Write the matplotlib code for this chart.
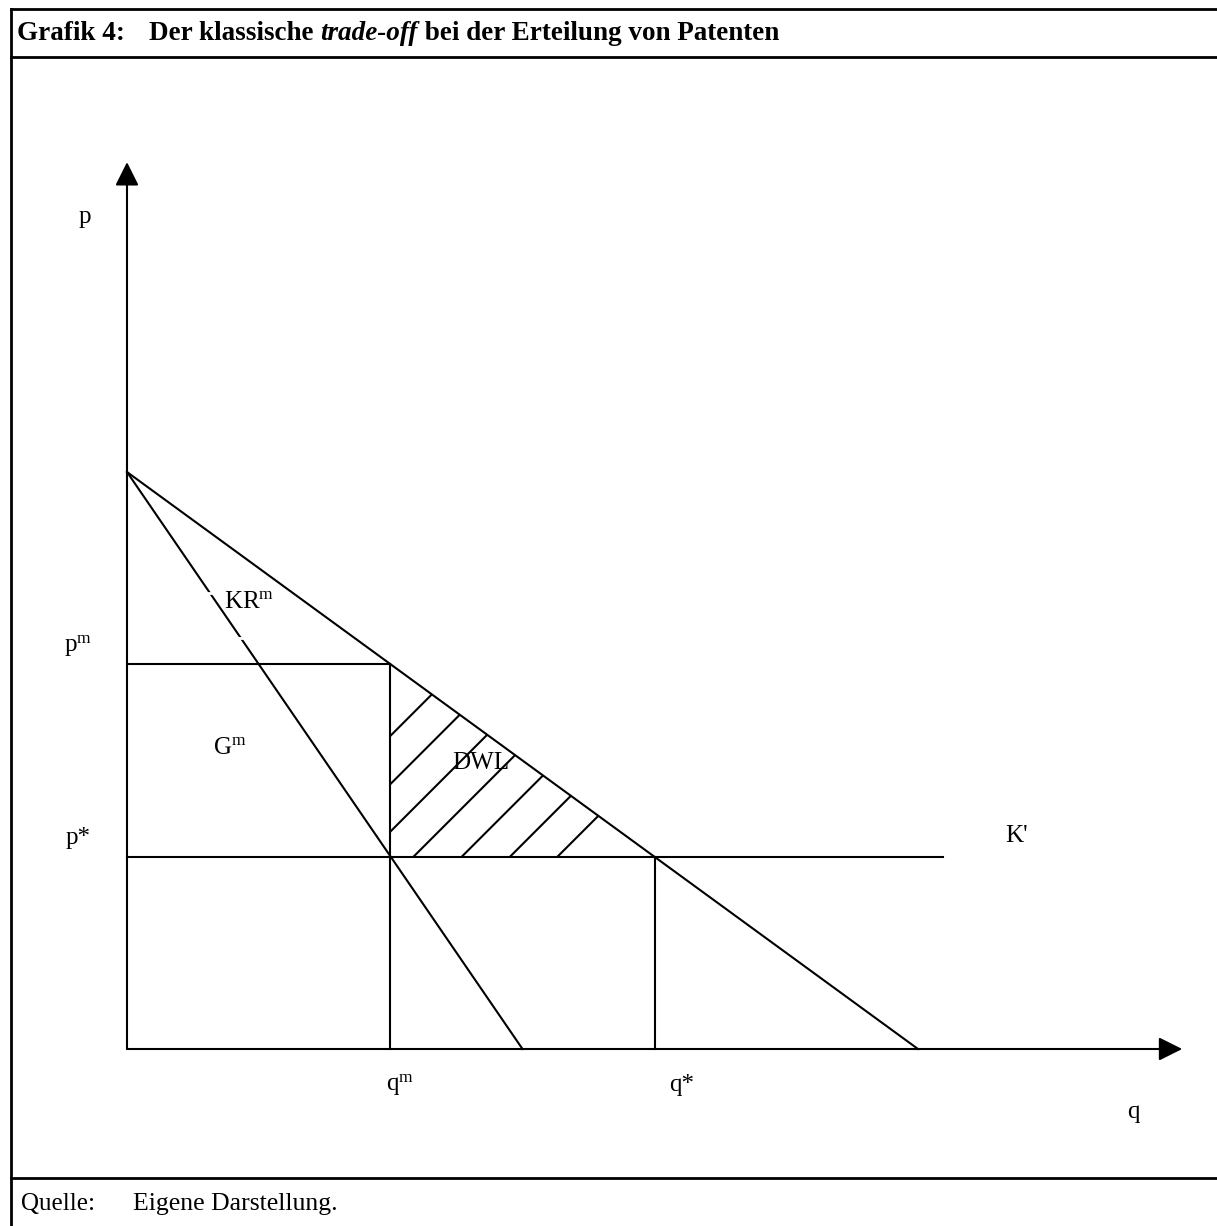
import matplotlib
matplotlib.use("Agg")
import matplotlib.pyplot as plt
from matplotlib.lines import Line2D
from matplotlib.patches import Polygon, Rectangle

# --- model values (linear demand, constant marginal cost) ---
demand_q = [0.0, 10.0]       # demand curve: price intercept -> quantity intercept
demand_p = [10.0, 0.0]
mr_q = [0.0, 5.0]            # marginal revenue curve
mr_p = [10.0, 0.0]
marginal_cost = 3.33         # K'
q_mono, p_mono = 3.33, 6.67  # monopoly quantity / price
q_star = 6.67                # competitive quantity
k_end = 10.32                # right end of the K' line
q_axis_end, p_axis_end = 13.34, 15.37

# hatch lines of the deadweight loss triangle (start on the K' line)
hatch_start_q = [1.80, 2.41, 3.01, 3.62, 4.23, 4.84, 5.44]

W, H = 1217, 1226
serif = "Liberation Serif"
plt.rcParams["mathtext.fontset"] = "custom"
plt.rcParams["mathtext.rm"] = serif
plt.rcParams["mathtext.it"] = serif + ":italic"

fig = plt.figure(figsize=(W / 100, H / 100), dpi=100)
ax = fig.add_axes([0, 0, 1, 1])
# origin sits at pixel (127, 1049); 79.1 px per q unit, 57.7 px per p unit
ax.set_xlim(-127 / 79.1, (W - 127) / 79.1)
ax.set_ylim(-(H - 1049) / 57.7, 1049 / 57.7)
ax.axis("off")

lw = 1.5
k = "black"

# axes with filled arrow heads
arrow = dict(arrowstyle="-|>,head_length=1.0,head_width=0.5", color=k, lw=lw,
             mutation_scale=14.4, shrinkA=0, shrinkB=0)
ax.annotate("", xy=(0, p_axis_end), xytext=(0, 0), arrowprops=arrow)
ax.annotate("", xy=(q_axis_end, 0), xytext=(0, 0), arrowprops=arrow)

# demand and marginal revenue
ax.plot(demand_q, demand_p, color=k, lw=lw)
ax.plot(mr_q, mr_p, color=k, lw=lw)

# monopoly price / quantity
ax.plot([0, q_mono], [p_mono, p_mono], color=k, lw=lw)
ax.plot([q_mono, q_mono], [0, p_mono], color=k, lw=lw)

# marginal cost line and competitive quantity
ax.plot([0, k_end], [marginal_cost, marginal_cost], color=k, lw=lw)
ax.plot([q_star, q_star], [0, marginal_cost], color=k, lw=lw)

# hatched deadweight loss
dwl = Polygon([(q_mono, marginal_cost), (q_mono, p_mono), (q_star, marginal_cost)],
              closed=True, facecolor="none", edgecolor="none")
ax.add_patch(dwl)
slope = 79.1 / 57.7  # 45 degrees on screen
for q0 in hatch_start_q:
    ln, = ax.plot([q0, q0 + 6], [marginal_cost, marginal_cost + 6 * slope],
                  color=k, lw=lw)
    ln.set_clip_path(dwl)

# white outline of the KR^m text box
ax.add_patch(Rectangle((0.80, 7.12), 1.20, 0.78, facecolor="none",
                       edgecolor="white", lw=2.0, zorder=5))

fs = 18
lab = dict(fontsize=fs, family=serif, color=k, zorder=6)
ax.text(-0.53, 14.42, "p", ha="center", va="center", **lab)
ax.text(-0.62, p_mono + 0.32, r"$\mathrm{p}^{\mathrm{m}}$", ha="center", va="center", **lab)
ax.text(-0.62, marginal_cost + 0.32, "p*", ha="center", va="center", **lab)
ax.text(1.55, 7.75, r"$\mathrm{KR}^{\mathrm{m}}$", ha="center", va="center", **lab)
ax.text(1.30, 5.22, r"$\mathrm{G}^{\mathrm{m}}$", ha="center", va="center", **lab)
ax.text(4.47, 4.96, "DWL", ha="center", va="center", **lab)
ax.text(11.24, marginal_cost + 0.36, "K'", ha="center", va="center", **lab)
ax.text(q_mono + 0.12, -0.62, r"$\mathrm{q}^{\mathrm{m}}$", ha="center", va="center", **lab)
ax.text(q_star + 0.34, -0.62, "q*", ha="center", va="center", **lab)
ax.text(12.72, -1.10, "q", ha="center", va="center", **lab)

# frame: top rule, header rule, footer rule, left border
def fx(px):
    return px / W

def fy(py):
    return 1 - py / H

for y in (9, 57, 1178):
    fig.add_artist(Line2D([fx(11), 1], [fy(y), fy(y)], color=k, lw=2.0))
fig.add_artist(Line2D([fx(11), fx(11)], [fy(9), 0], color=k, lw=2.0))

# header text, pieces placed one after another
renderer = fig.canvas.get_renderer()
tfs = 19.5
fig.text(fx(17), fy(34), "Grafik 4:", fontsize=tfs, family=serif,
         weight="bold", va="center")
x = fx(149)
for piece, style in [("Der klassische ", "normal"), ("trade-off", "italic"),
                     (" bei der Erteilung von Patenten", "normal")]:
    t = fig.text(x, fy(34), piece, fontsize=tfs, family=serif, weight="bold",
                 style=style, va="center")
    bb = t.get_window_extent(renderer)
    x += bb.width / W

fig.text(fx(21), fy(1204), "Quelle:", fontsize=fs, family=serif, va="center")
fig.text(fx(133), fy(1204), "Eigene Darstellung.", fontsize=18.5, family=serif, va="center")

fig.savefig("out.png", dpi=100)
